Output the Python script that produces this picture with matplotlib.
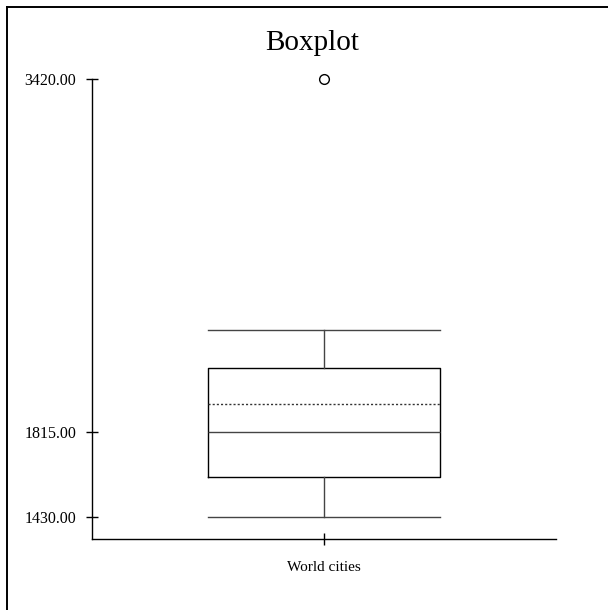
import matplotlib
matplotlib.use("Agg")
import matplotlib.pyplot as plt
from matplotlib.lines import Line2D

# summary values
label = "World cities"
q1 = 1613
median = 1815
q3 = 2109
whislo = 1430
whishi = 2280
mean = 1944
fliers = [3420]
yticks = [1430, 1815, 3420]

plt.rcParams['font.family'] = ['Liberation Serif', 'DejaVu Serif']

fig = plt.figure(figsize=(6.08, 6.10), dpi=100)
ax = fig.add_axes([92 / 608, 1 - 539 / 610, 464 / 608, 460 / 610])

stats = [{'label': label, 'q1': q1, 'med': median, 'q3': q3,
          'whislo': whislo, 'whishi': whishi, 'mean': mean, 'fliers': fliers}]
parts = ax.bxp(stats, positions=[1], widths=0.5, capwidths=0.5, showmeans=True, meanline=True,
               boxprops=dict(color='black', linewidth=1),
               whiskerprops=dict(color='#444444', linewidth=1),
               capprops=dict(color='#444444', linewidth=1),
               medianprops=dict(color='#444444', linewidth=1),
               meanprops=dict(color='#333333', linewidth=1, linestyle=(0, (1.5, 1.5))),
               flierprops=dict(marker='o', markersize=7, markerfacecolor='white',
                               markeredgecolor='black', markeredgewidth=1))
for f in parts['fliers']:
    f.set_clip_on(False)

ax.set_xlim(0.5, 1.5)
ax.set_ylim(1330, 3420)
ax.set_yticks(yticks)
ax.set_yticklabels(['%.2f' % v for v in yticks])
ax.spines['top'].set_visible(False)
ax.spines['right'].set_visible(False)
for s in ['left', 'bottom']:
    ax.spines[s].set_linewidth(1)
ax.tick_params(axis='y', direction='inout', length=8.6, width=1, pad=7, labelsize=11.5)
ax.tick_params(axis='x', direction='inout', length=8.6, width=1, pad=11.5, labelsize=11)

fig.text(312 / 608, 1 - 50 / 610, "Boxplot", ha='center', va='baseline', fontsize=21)

# outer frame (only left and top edges visible)
fig.add_artist(Line2D([7 / 608, 7 / 608], [0, 1 - 7 / 610], color='black', linewidth=1.4,
                      transform=fig.transFigure))
fig.add_artist(Line2D([7 / 608, 1], [1 - 7 / 610, 1 - 7 / 610], color='black', linewidth=1.4,
                      transform=fig.transFigure))

fig.savefig('out.png', dpi=100)
